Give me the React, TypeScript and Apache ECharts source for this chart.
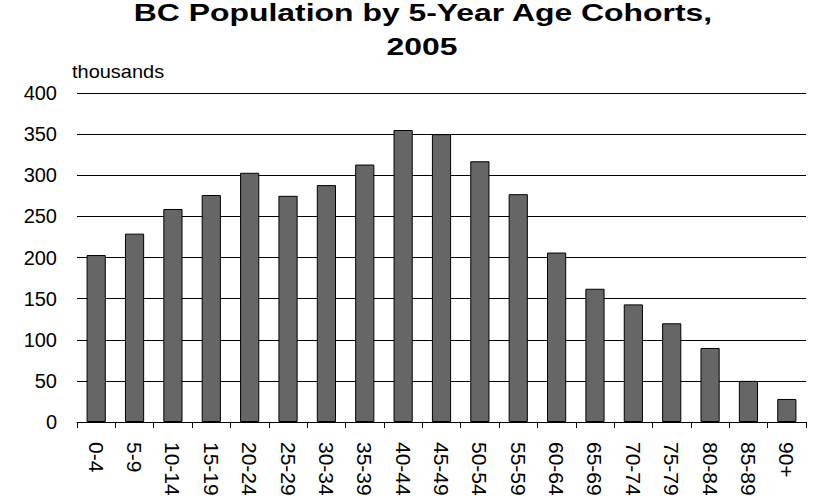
import React, { useEffect, useRef } from "react";
import * as echarts from "echarts";

const categories = ["0-4", "5-9", "10-14", "15-19", "20-24", "25-29", "30-34", "35-39", "40-44", "45-49", "50-54", "55-59", "60-64", "65-69", "70-74", "75-79", "80-84", "85-89", "90+"];
const population = [203, 229, 259, 276, 303, 275, 288, 313, 355, 350, 317, 277, 206, 162, 143, 120, 90, 50, 28];
const titleLines = ["BC Population by 5-Year Age Cohorts,", "2005"];
const unitLabel = "thousands";

const FONT = "'Liberation Sans', Arial, Helvetica, sans-serif";

export default function App() {
  const ref = useRef<HTMLDivElement>(null);
  useEffect(() => {
    if (!ref.current) return;
    const chart = echarts.init(ref.current, null, { renderer: "svg" });
    chart.setOption({
      animation: false,
      backgroundColor: "#ffffff",
      textStyle: { fontFamily: FONT },
      grid: { left: 77, right: 9, top: 93, bottom: 80, containLabel: false },
      graphic: [
        {
          type: "text",
          x: 423,
          y: 12.5,
          scaleX: 1.33,
          style: {
            text: titleLines[0],
            font: `bold 24px ${FONT}`,
            fill: "#000",
            textAlign: "center",
            textVerticalAlign: "middle",
          },
        },
        {
          type: "text",
          x: 422,
          y: 46.5,
          scaleX: 1.33,
          style: {
            text: titleLines[1],
            font: `bold 24px ${FONT}`,
            fill: "#000",
            textAlign: "center",
            textVerticalAlign: "middle",
          },
        },
        {
          type: "text",
          x: 72,
          y: 72,
          scaleX: 1.11,
          style: {
            text: unitLabel,
            font: `18px ${FONT}`,
            fill: "#000",
            textAlign: "left",
            textVerticalAlign: "middle",
          },
        },
      ],
      xAxis: {
        type: "category",
        data: categories,
        boundaryGap: true,
        axisLine: { show: true, lineStyle: { color: "#000", width: 1 } },
        axisTick: { show: true, length: 6, lineStyle: { color: "#000" } },
        axisLabel: {
          rotate: -90,
          margin: 20,
          fontSize: 21,
          color: "#000",
          fontFamily: FONT,
          interval: 0,
        },
        splitLine: { show: false },
      },
      yAxis: {
        type: "value",
        min: 0,
        max: 400,
        interval: 50,
        axisLine: { show: false },
        axisTick: { show: false },
        axisLabel: { fontSize: 20, color: "#000", margin: 20, fontFamily: FONT },
        splitLine: { show: true, lineStyle: { color: "#000", width: 1 } },
      },
      series: [
        {
          type: "bar",
          data: population,
          barWidth: "50%",
          itemStyle: { color: "#666666", borderColor: "#000", borderWidth: 1 },
        },
      ],
    });
    return () => chart.dispose();
  }, []);
  return (
    <div
      ref={ref}
      style={{ position: "absolute", left: 0, top: 0, width: 815, height: 502 }}
    />
  );
}
